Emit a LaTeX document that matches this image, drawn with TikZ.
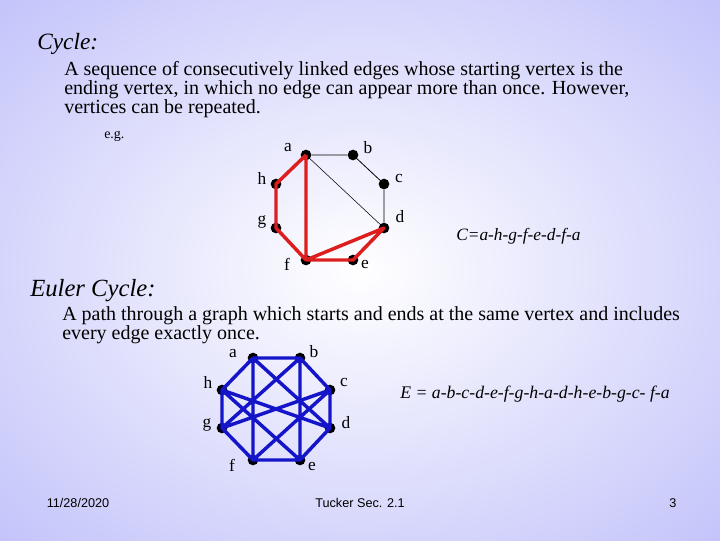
\documentclass[tikz,border=0pt]{standalone}
\usepackage{fontspec}
\setmainfont{Liberation Serif}
\newfontfamily\arialf{Liberation Sans}
\begin{document}
\begin{tikzpicture}[x=0.75pt,y=-0.75pt,
  vtx/.style={circle,fill=black,inner sep=0pt,minimum size=8pt},
  lbl/.style={font=\fontsize{13}{13}\selectfont},
  redge/.style={draw={rgb,255:red,220;green,30;blue,30},line width=2.6pt},
  bedge/.style={draw={rgb,255:red,20;green,20;blue,200},line width=2.6pt},
  kedge/.style={draw=black,line width=0.6pt},
  txt/.style={anchor=west,inner sep=0pt,font=\fontsize{15}{14.3}\selectfont}]
\definecolor{lav}{RGB}{190,190,250}
\useasboundingbox (0,0) rectangle (720,540);
\shade[inner color=white,outer color=lav] (-200,-150) rectangle (920,690);
\node[txt,font=\fontsize{17.5}{17.5}\selectfont\itshape] (t1) at (37,44) {Cycle:};
\node[txt,anchor=north west,align=left] (t2) at (64,61) {A sequence of consecutively linked edges whose starting vertex is the\\ending vertex, in which no edge can appear more than once. However,\\vertices can be repeated.};
\node[txt,font=\fontsize{10.5}{11}\selectfont] (eg) at (104,136) {e.g.};
% top graph
\node[vtx] (a) at (306,155) {}; \node[vtx] (b) at (353,155) {};
\node[vtx] (c) at (384,184) {}; \node[vtx] (d) at (384,228) {};
\node[vtx] (e) at (353,260) {}; \node[vtx] (f) at (306,260) {};
\node[vtx] (h) at (276,184) {}; \node[vtx] (g) at (276,228) {};
\draw[kedge] (a)--(b) (b)--(c) (c)--(d);
\draw[kedge,line width=0.4pt] (a)--(d);
\draw[redge,line join=round] (a.center)--(h.center)--(g.center)--(f.center)--(a.center) (f.center)--(d.center)--(e.center)--(f.center);
\foreach \n/\x/\y in {a/288/148,b/368/148,c/399/178,d/400/217,e/365/264,f/287/264,h/262/178,g/262/222}
  \node[lbl] (l\n) at (\x,\y) {\n};
\node[txt,font=\fontsize{13}{13}\selectfont\itshape] (cf) at (456,236) {C=a-h-g-f-e-d-f-a};
\node[txt,font=\fontsize{18.5}{18.5}\selectfont\itshape] (t3) at (30,291) {Euler Cycle:};
\node[txt,anchor=north west,align=left] (t4) at (62,306) {A path through a graph which starts and ends at the same vertex and includes\\every edge exactly once.};
% bottom graph
\node[vtx] (A) at (253,358) {}; \node[vtx] (B) at (300,358) {};
\node[vtx] (C) at (330,390) {}; \node[vtx] (D) at (330,428) {};
\node[vtx] (E) at (300,460) {}; \node[vtx] (F) at (253,460) {};
\node[vtx] (H) at (222,390) {}; \node[vtx] (G) at (222,428) {};
\draw[bedge,line join=round] (A.center)--(B.center)--(C.center)--(D.center)--(E.center)--(F.center)--(G.center)--(H.center)--(A.center)--(D.center)--(H.center)--(E.center)--(B.center)--(G.center)--(C.center)--(F.center)--(A.center);
\foreach \n/\m/\x/\y in {A/a/233/354,B/b/314/352,C/c/344/382,D/d/346/423,E/e/312/466,F/f/232/465,H/h/208/382,G/g/207/425}
  \node[lbl] (l\n) at (\x,\y) {\m};
\node[txt,font=\fontsize{13.3}{13}\selectfont\itshape] (ef) at (400,394) {E = a-b-c-d-e-f-g-h-a-d-h-e-b-g-c- f-a};
% footer
\node[font=\arialf\fontsize{9.5}{10}\selectfont] (dt) at (78,503) {11/28/2020};
\node[font=\arialf\fontsize{9.5}{10}\selectfont] (tk) at (360,503) {Tucker Sec. 2.1};
\node[font=\arialf\fontsize{9.5}{10}\selectfont] (pg) at (673,503) {3};
\end{tikzpicture}
\end{document}
